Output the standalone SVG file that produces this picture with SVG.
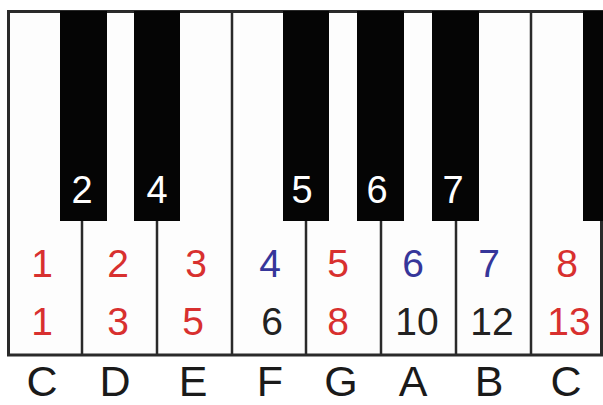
<svg xmlns="http://www.w3.org/2000/svg" width="603" height="405" viewBox="0 0 603 405">
<style>
.bg{fill:#ffffff}
.white{fill:#fdfdfd}
.sep{stroke:#2a2a2a;stroke-width:2.5;fill:none}
.frame{stroke:#2a2a2a;stroke-width:3;fill:none}
.black{fill:#050505}
text{font-family:"Liberation Sans",Arial,Helvetica,sans-serif;text-anchor:middle}
.num{font-size:39px}
.bnum{font-size:38px;fill:#ffffff}
.note{font-size:43px;fill:#1a1a1a}
.r{fill:#d8302f}
.b{fill:#36369a}
.k{fill:#222222}
</style>
<rect class="bg" x="0" y="0" width="603" height="405"/>
<g id="whites">
<rect class="white" x="8.5" y="11.5" width="593" height="343"/>
</g>
<g id="connectors">
<line class="sep" x1="82" y1="221" x2="82" y2="355"/>
<line class="sep" x1="157" y1="221" x2="157" y2="355"/>
<line class="sep" x1="232" y1="11" x2="232" y2="355"/>
<line class="sep" x1="306" y1="221" x2="306" y2="355"/>
<line class="sep" x1="381" y1="221" x2="381" y2="355"/>
<line class="sep" x1="456" y1="221" x2="456" y2="355"/>
<line class="sep" x1="531" y1="11" x2="531" y2="355"/>
<path class="frame" d="M8.5,355 V11.5 H601.5 V355 Z"/>
</g>
<g id="key-Cs"><rect class="black" x="60" y="11" width="47" height="210"/><text class="bnum" x="82" y="203">2</text></g>
<g id="key-Ds"><rect class="black" x="134" y="11" width="46" height="210"/><text class="bnum" x="157" y="203">4</text></g>
<g id="key-Fs"><rect class="black" x="283" y="11" width="46" height="210"/><text class="bnum" x="302" y="203">5</text></g>
<g id="key-Gs"><rect class="black" x="357" y="11" width="47" height="210"/><text class="bnum" x="377" y="203">6</text></g>
<g id="key-As"><rect class="black" x="432" y="11" width="47" height="210"/><text class="bnum" x="453" y="203">7</text></g>
<g id="key-Cs2"><rect class="black" x="583" y="11" width="20" height="210"/></g>
<g id="key-C"><text class="num r" x="42" y="277">1</text><text class="num r" x="42" y="335">1</text><text class="note" x="42" y="396">C</text></g>
<g id="key-D"><text class="num r" x="118" y="277">2</text><text class="num r" x="118" y="335">3</text><text class="note" x="115" y="396">D</text></g>
<g id="key-E"><text class="num r" x="196" y="277">3</text><text class="num r" x="193" y="335">5</text><text class="note" x="193" y="396">E</text></g>
<g id="key-F"><text class="num b" x="270" y="277">4</text><text class="num k" x="272" y="335">6</text><text class="note" x="270" y="396">F</text></g>
<g id="key-G"><text class="num r" x="338" y="277">5</text><text class="num r" x="338" y="335">8</text><text class="note" x="341" y="396">G</text></g>
<g id="key-A"><text class="num b" x="413" y="277">6</text><text class="num k" x="417" y="335">10</text><text class="note" x="413" y="396">A</text></g>
<g id="key-B"><text class="num b" x="489" y="277">7</text><text class="num k" x="492" y="335">12</text><text class="note" x="489" y="396">B</text></g>
<g id="key-C2"><text class="num r" x="567" y="277">8</text><text class="num r" x="569" y="335">13</text><text class="note" x="566" y="396">C</text></g>
</svg>
